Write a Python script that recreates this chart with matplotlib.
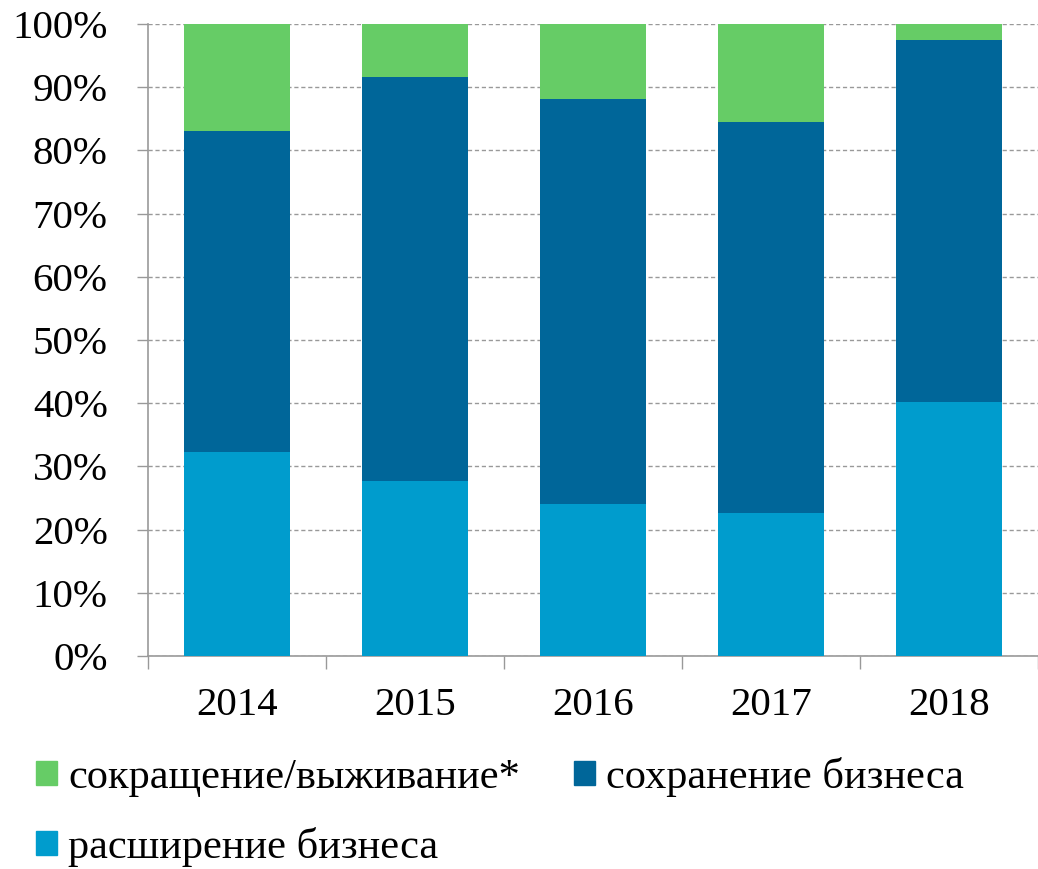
import numpy as np
import matplotlib
matplotlib.use('Agg')
import matplotlib.pyplot as plt
from matplotlib.patches import Patch

plt.rcParams['font.family'] = ['Liberation Serif', 'DejaVu Serif']

# data, shares in %
years = ['2014', '2015', '2016', '2017', '2018']
expand = [32.3, 27.7, 24.1, 22.6, 40.2]
keep = [50.8, 63.9, 64.0, 61.9, 57.3]
shrink = [16.9, 8.4, 11.9, 15.5, 2.5]

labels = ['сокращение/выживание*', 'сохранение бизнеса', 'расширение бизнеса']
colors = ['#66CC66', '#006699', '#009CCD']

fig = plt.figure(figsize=(10.38, 8.69), dpi=100)
ax = fig.add_axes([148 / 1038, 213 / 869, 890 / 1038, 632 / 869])

x = np.arange(len(years))
w = 0.59
expand = np.array(expand)
keep = np.array(keep)
shrink = np.array(shrink)
ax.bar(x, expand, w, color=colors[2], zorder=3)
ax.bar(x, keep, w, bottom=expand, color=colors[1], zorder=3)
ax.bar(x, shrink, w, bottom=expand + keep, color=colors[0], zorder=3)

ax.set_ylim(0, 100)
ax.set_xlim(-0.5, 4.5 - 3 / 178.6)
ax.set_yticks(np.arange(0, 101, 10))
ax.set_yticklabels([f'{v}%' for v in range(0, 101, 10)])
ax.set_xticks(x)
ax.set_xticklabels(years)
ax.set_xticks(np.arange(-0.5, 4.6, 1), minor=True)

ax.yaxis.grid(True, linestyle=(0, (3, 2)), color='#999999', linewidth=1, zorder=0)
for s in ['top', 'right']:
    ax.spines[s].set_visible(False)
for s in ['left', 'bottom']:
    ax.spines[s].set_color('#999999')
    ax.spines[s].set_linewidth(1.2)

ax.tick_params(axis='y', length=8, width=1, color='#999999', labelsize=29.5, pad=21)
ax.tick_params(axis='x', which='major', length=0, labelsize=29.5, pad=22)
ax.tick_params(axis='x', which='minor', length=9, width=1, color='#999999')

handles = [Patch(color=colors[0]), Patch(color=colors[2]), Patch(color=colors[1])]
leg_labels = [labels[0], labels[2], labels[1]]
fig.legend(handles, leg_labels, ncol=2, loc='upper left', bbox_to_anchor=(36 / 1038, 1 - 757 / 869),
           frameon=False, fontsize=30.5, handlelength=0.5, handleheight=0.5,
           handletextpad=0.26, columnspacing=1.27, labelspacing=0.7, borderaxespad=0, borderpad=0)

fig.savefig('out.png', dpi=100)
